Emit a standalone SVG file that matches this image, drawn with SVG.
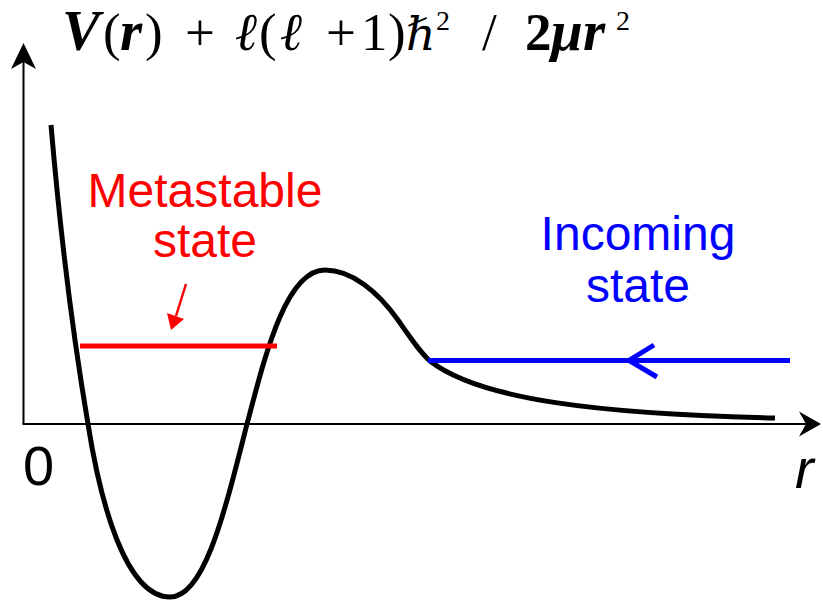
<svg xmlns="http://www.w3.org/2000/svg" width="823" height="603" viewBox="0 0 823 603">
<style>
.ser{font-family:"Liberation Serif","DejaVu Serif",serif;font-size:53px;fill:#000}
.bi{font-weight:bold;font-style:italic;font-size:57px}
.it{font-style:italic}
.b{font-weight:bold}
.hb{font-style:italic;font-size:46px}
.sup{font-size:28px}
.lbl{font-family:"Liberation Sans",Arial,sans-serif;font-size:48px}
.ax{font-family:"Liberation Sans",Arial,sans-serif;font-size:56px;fill:#000}
.axis{stroke:#000;stroke-width:2;fill:none}
.head{fill:#000}
</style>
<rect width="823" height="603" fill="#fff"/>
<g id="axes">
  <line class="axis" x1="23.5" y1="424" x2="23.5" y2="58"/>
  <path class="head" d="M23.5,43 L36,69 L23.5,62 L11,69 Z"/>
  <line class="axis" x1="22.5" y1="424" x2="808" y2="424"/>
  <path class="head" d="M821,424 L799,436.5 L806,424 L799,411.5 Z"/>
  <text class="ax" x="23" y="485">0</text>
  <text class="ax it" x="795" y="488">r</text>
</g>
<g id="title">
  <text class="ser" y="50"><tspan class="bi" x="62">V</tspan><tspan x="103">(</tspan><tspan class="bi" x="120">r</tspan><tspan x="145">)</tspan><tspan x="185">+</tspan><tspan class="it" x="235">ℓ</tspan><tspan x="259">(</tspan><tspan class="it" x="280">ℓ</tspan><tspan x="326">+</tspan><tspan x="361">1</tspan><tspan x="388">)</tspan><tspan class="hb" x="406">ℏ</tspan><tspan class="sup" x="436" y="30">2</tspan><tspan x="482" y="50">/</tspan><tspan class="b" x="525">2</tspan><tspan class="bi" x="551">μ</tspan><tspan class="bi" x="583">r</tspan><tspan class="sup" x="616" y="30">2</tspan></text>
</g>
<g id="potential">
  <path d="M51,125 C60,230 72,330 88,424 C100,500 125,597 170,597 C205,597 225,510 247,424 C264,360 285,270 325,270 C352,270 378,292 398,320 C412,340 420,352 430,361 C480,400 600,414 775,418" fill="none" stroke="#000" stroke-width="5" stroke-linejoin="round"/>
</g>
<g id="metastable">
  <line x1="80" y1="346" x2="277" y2="346" stroke="#f00" stroke-width="5"/>
  <text class="lbl" fill="#f00" text-anchor="middle"><tspan x="205" y="207">Metastable</tspan><tspan x="205" y="257">state</tspan></text>
</g>
<g id="incoming">
  <line x1="428" y1="360.5" x2="790" y2="360.5" stroke="#00f" stroke-width="5"/>
  <text class="lbl" fill="#00f" text-anchor="middle"><tspan x="638" y="250">Incoming</tspan><tspan x="638" y="302">state</tspan></text>
</g>
<g id="connectors">
  <line x1="186" y1="284" x2="176" y2="316" stroke="#f00" stroke-width="2.5"/>
  <path d="M171,330 L167,313 L184,319 Z" fill="#f00"/>
  <polyline points="654,345 629,360.5 657,377" fill="none" stroke="#00f" stroke-width="5"/>
</g>
</svg>
